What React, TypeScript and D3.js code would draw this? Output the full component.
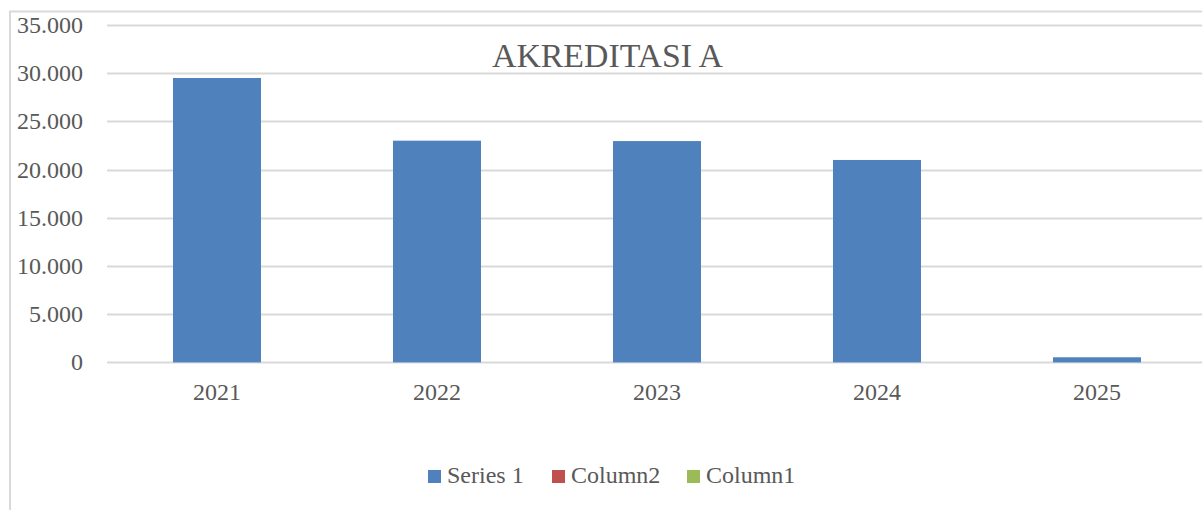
import React, { useEffect, useRef } from 'react';
import * as d3 from 'd3';

// data
const years = ['2021', '2022', '2023', '2024', '2025'];
const series1 = [29500, 23000, 22960, 21000, 530];
const legendNames = ['Series 1', 'Column2', 'Column1'];
const legendColors = ['#4F81BD', '#C0504D', '#9BBB59'];
const yTicks = [0, 5000, 10000, 15000, 20000, 25000, 30000, 35000];

const W = 1202;
const H = 510;
const FONT = "'Liberation Serif', 'DejaVu Serif', serif";
const TEXT = '#595959';
const GRID = '#D9D9D9';

const App = () => {
    const ref = useRef<SVGSVGElement>(null);

    useEffect(() => {
        const svg = d3.select(ref.current);
        svg.selectAll('*').remove();

        const x = d3.scaleBand<string>()
            .domain(years)
            .range([107, 1207])
            .paddingInner(0.6)
            .paddingOuter(0.3);
        const y = d3.scaleLinear([0, 35000], [362.4, 25]);

        // chart border (only top and left visible, rest is cropped)
        svg.append('rect')
            .attr('x', 10)
            .attr('y', 11.5)
            .attr('width', W + 20)
            .attr('height', H + 20)
            .attr('fill', 'white')
            .attr('stroke', GRID)
            .attr('stroke-width', 2);

        // gridlines
        svg.append('g')
            .selectAll('line')
            .data(yTicks)
            .join('line')
            .attr('x1', 107)
            .attr('x2', W)
            .attr('y1', d => Math.round(y(d)) + 0.5)
            .attr('y2', d => Math.round(y(d)) + 0.5)
            .attr('stroke', GRID)
            .attr('stroke-width', 2);

        // y labels
        const fmt = d3.formatLocale({ decimal: ',', thousands: '.', grouping: [3], currency: ['', ''] }).format(',d');
        svg.append('g')
            .selectAll('text')
            .data(yTicks)
            .join('text')
            .attr('x', 83)
            .attr('y', d => y(d) + 8)
            .attr('text-anchor', 'end')
            .attr('font-family', FONT)
            .attr('font-size', 24)
            .attr('fill', TEXT)
            .text(d => fmt(d));

        // bars
        svg.append('g')
            .selectAll('rect')
            .data(series1)
            .join('rect')
            .attr('x', (d, i) => x(years[i])!)
            .attr('width', x.bandwidth())
            .attr('y', d => y(d))
            .attr('height', d => y(0) - y(d))
            .attr('fill', legendColors[0]);

        // x labels
        svg.append('g')
            .selectAll('text')
            .data(years)
            .join('text')
            .attr('x', d => x(d)! + x.bandwidth() / 2)
            .attr('y', 400)
            .attr('text-anchor', 'middle')
            .attr('font-family', FONT)
            .attr('font-size', 24)
            .attr('fill', TEXT)
            .text(d => d);

        // title
        svg.append('text')
            .attr('x', 607.5)
            .attr('y', 66.7)
            .attr('text-anchor', 'middle')
            .attr('font-family', FONT)
            .attr('font-size', 34)
            .attr('fill', TEXT)
            .attr('textLength', 231)
            .attr('lengthAdjust', 'spacingAndGlyphs')
            .text('AKREDITASI A');

        // legend
        const legendX = [428, 552, 687];
        const lg = svg.append('g')
            .selectAll('g')
            .data(legendNames)
            .join('g')
            .attr('transform', (d, i) => `translate(${legendX[i]},470)`);
        lg.append('rect')
            .attr('width', 13)
            .attr('height', 13)
            .attr('fill', (d, i) => legendColors[i]);
        lg.append('text')
            .attr('x', 19)
            .attr('y', 13.3)
            .attr('font-family', FONT)
            .attr('font-size', 24)
            .attr('fill', TEXT)
            .text(d => d);
    }, []);

    return (
        <svg
            ref={ref}
            width={W}
            height={H}
            style={{ position: 'fixed', top: 0, left: 0, background: 'white' }}
        />
    );
};

export default App;
